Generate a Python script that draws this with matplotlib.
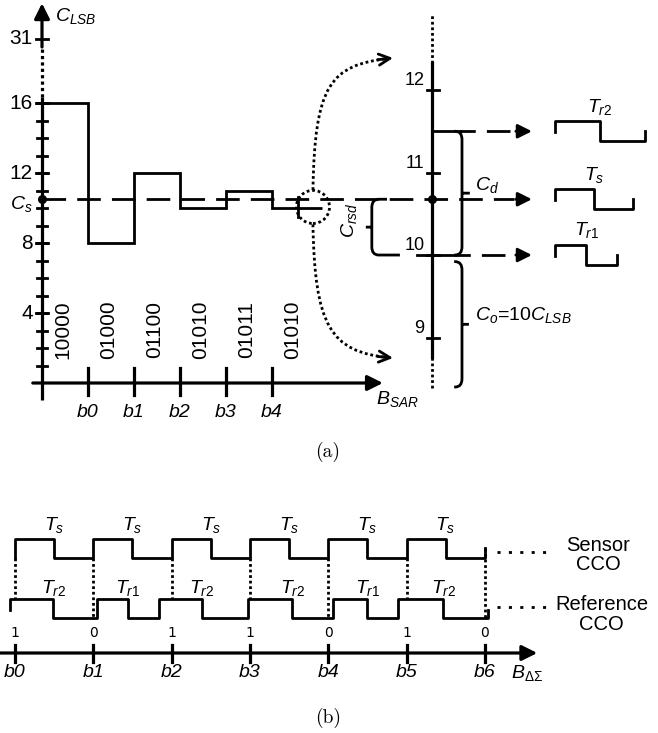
import numpy as np
import matplotlib
matplotlib.use('Agg')
import matplotlib.pyplot as plt
from matplotlib.path import Path
from matplotlib.patches import PathPatch, Ellipse

plt.rcParams['font.family'] = ['Liberation Sans', 'DejaVu Sans']
plt.rcParams['mathtext.fontset'] = 'custom'
plt.rcParams['mathtext.rm'] = 'Liberation Sans'
plt.rcParams['mathtext.it'] = 'Liberation Sans:italic'
plt.rcParams['mathtext.default'] = 'it'

# ---- data, panel (a): SAR search ----
sar_ticks = ['b0', 'b1', 'b2', 'b3', 'b4']
sar_codes = ['10000', '01000', '01100', '01010', '01011', '01010']
sar_levels = [16, 8, 12, 10, 11, 10]
y_major = [4, 8, 12, 16]
y_top_label = 31
c_s = 10.5
zoom_ticks = [9, 10, 11, 12]
c_r2 = 11.5
c_r1 = 10.0
c_o_low = 8.4
# relative oscillation periods (Ts = 1)
wave_names = ['T_{r2}', 'T_s', 'T_{r1}']
wave_periods = [1.15, 1.0, 0.8]

# ---- data, panel (b): delta-sigma ----
dsm_ticks = ['b0', 'b1', 'b2', 'b3', 'b4', 'b5', 'b6']
dsm_bits = [1, 0, 1, 1, 0, 1, 0]
ref_rise = [-0.06, 1.05, 1.84, 2.98, 4.06, 4.89]
ref_fall = [0.49, 1.44, 2.39, 3.54, 4.50, 5.47]
ref_end = 6.04
ref_labels = ['T_{r2}', 'T_{r1}', 'T_{r2}', 'T_{r2}', 'T_{r1}', 'T_{r2}']

LW = 2.0
AX_LW = 2.3
DOT = (0, (1.0, 1.0))
DASH = (0, (8.5, 4))
FS = 14

fig = plt.figure(figsize=(6.58, 7.33), dpi=100)
top_box = [0, 293 / 733, 1, 440 / 733]
ax = fig.add_axes(top_box)
ax.set_xlim(-0.913, 13.391)
ax.set_ylim(-3.257, 21.886)
ax.axis('off')
axr = fig.add_axes(top_box)
axr.set_xlim(-0.913, 13.391)
axr.set_ylim(7.758, 13.091)
axr.axis('off')
axr.patch.set_alpha(0)


def arrow(a, tip, tail, ms=21, style='-|>', lw=LW):
    a.annotate('', xy=tip, xytext=tail,
               arrowprops=dict(arrowstyle=style, color='k', lw=lw,
                               mutation_scale=ms, shrinkA=0, shrinkB=0))


def brace(a, x, y_top, y_bot, d, arm_top, arm_bot, rx, ry, tick):
    verts = [(x + d * arm_top, y_top), (x + d * rx, y_top), (x, y_top), (x, y_top - ry),
             (x, y_bot + ry), (x, y_bot), (x + d * rx, y_bot), (x + d * arm_bot, y_bot),
             (x, (y_top + y_bot) / 2), (x - d * tick, (y_top + y_bot) / 2)]
    codes = [Path.MOVETO, Path.LINETO, Path.CURVE3, Path.CURVE3,
             Path.LINETO, Path.CURVE3, Path.CURVE3, Path.LINETO,
             Path.MOVETO, Path.LINETO]
    a.add_patch(PathPatch(Path(verts, codes), fill=False, lw=LW, color='k'))


# ---- left axis (C_LSB) ----
y31 = 19.66
ax.plot([0, 0], [-0.97, 16.34], 'k', lw=AX_LW, solid_capstyle='butt')
ax.plot([0, 0], [16.34, 19.2], 'k', lw=AX_LW, ls=DOT)
arrow(ax, (0, 21.7), (0, 19.2), ms=23, lw=AX_LW)
for v in range(1, 17):
    ax.plot([-0.1, 0.1], [v, v], 'k', lw=LW)
for v in y_major:
    ax.plot([-0.14, 0.12], [v, v], 'k', lw=LW)
    ax.text(-0.2, v, str(v), ha='right', va='center', fontsize=FS + 1)
ax.plot([-0.14, 0.12], [y31, y31], 'k', lw=LW)
ax.text(-0.2, y31, str(y_top_label), ha='right', va='center', fontsize=FS + 1)
ax.text(0.28, 21.0, r'$C_{LSB}$', ha='left', va='center', fontsize=FS)
ax.plot(0, c_s, 'ko', ms=5.5)
ax.text(-0.2, c_s - 0.25, r'$C_s$', ha='right', va='center', fontsize=FS)

# x axis (B_SAR)
arrow(ax, (7.41, 0), (-0.2, 0), ms=23, lw=AX_LW)
for k, lab in enumerate(sar_ticks, start=1):
    ax.plot([k, k], [-0.69, 0.86], 'k', lw=AX_LW)
    ax.text(k, -1.66, lab, ha='center', va='center', fontsize=FS, style='italic')
ax.text(7.72, -0.9, r'$B_{SAR}$', ha='center', va='center', fontsize=FS)
for i, code in enumerate(sar_codes):
    ax.text(i + 0.45, 3.03, code, rotation=90, ha='center', va='center', fontsize=15)

# SAR steps
edges = list(range(len(sar_levels))) + [len(sar_levels) + 0.09]
ax.stairs(sar_levels, edges, baseline=None, color='k', lw=LW)
ax.plot([5.57, 5.57], [9.49, 10.63], 'k', lw=LW)

# C_s dashed line with arrow
XR = 8.48
ax.plot([0, 10.25], [c_s, c_s], 'k', lw=LW, ls=DASH)
arrow(ax, (10.65, c_s), (10.3, c_s))
ax.plot(XR, c_s, 'ko', ms=5.5)

# zoom circle and dotted curved arrows
cx, cy = edges[-1] - 0.2, sar_levels[-1] + 0.06
ax.add_patch(Ellipse((cx, cy), 0.72, 1.89, fill=False, lw=LW, ls=DOT))
up = [(cx, cy + 0.97), (cx + 0.04, 17.03), (cx + 0.37, 18.17), (7.55, 18.55)]
dn = [(cx, cy - 1.0), (cx + 0.04, 3.31), (cx + 0.37, 1.77), (7.55, 1.45)]
for pts in (up, dn):
    ax.add_patch(PathPatch(Path(pts, [Path.MOVETO, Path.CURVE4, Path.CURVE4, Path.CURVE4]),
                           fill=False, lw=LW, ls=DOT))
    arrow(ax, (pts[3][0] + 0.08, pts[3][1] + (pts[3][1] - pts[2][1]) * 0.06),
          (pts[3][0] - 0.25, pts[3][1] - (pts[3][1] - pts[2][1]) * 0.2), ms=20, style='->')

# ---- zoomed right axis ----
axr.plot([XR, XR], [12.33, 12.91], 'k', lw=LW, ls=DOT)
axr.plot([XR, XR], [8.76, 12.33], 'k', lw=AX_LW)
axr.plot([XR, XR], [8.39, 8.76], 'k', lw=LW, ls=DOT)
for v in zoom_ticks:
    axr.plot([XR - 0.12, XR + 0.15], [v, v], 'k', lw=LW)
    axr.text(XR - 0.17, v + 0.01, str(v), ha='right', va='bottom', fontsize=13)

cs_r = axr.transData.inverted().transform(ax.transData.transform((XR, c_s)))[1]

# reference levels
axr.plot([XR, 9.09], [c_r2, c_r2], 'k', lw=LW)
axr.plot([9.09, 10.25], [c_r2, c_r2], 'k', lw=LW, ls=(3, (8.5, 4)))
arrow(axr, (10.65, c_r2), (10.3, c_r2))
axr.plot([8.15, 8.98], [c_r1, c_r1], 'k', lw=LW)
axr.plot([8.98, 10.25], [c_r1, c_r1], 'k', lw=LW, ls=(3, (8.5, 4)))
arrow(axr, (10.65, c_r1), (10.3, c_r1))

# braces
brace(axr, 9.13, c_r2, c_r1, -1, 0.17, 0.17, 0.15, 0.1, 0.17)
brace(axr, 9.13, c_r1 - 0.08, c_o_low, -1, 0.17, 0.17, 0.15, 0.1, 0.15)
brace(axr, 7.17, cs_r, c_r1, 1, 0.33, 0.61, 0.15, 0.1, 0.13)
axr.text(9.41, cs_r + 0.17, r'$C_d$', ha='left', va='center', fontsize=FS)
axr.text(9.41, 9.27, r'$C_o$=10$C_{LSB}$', ha='left', va='center', fontsize=FS)
axr.text(6.67, (cs_r + c_r1) / 2 + 0.08, r'$C_{rsd}$', rotation=90, ha='center', va='center', fontsize=FS)

# small period waveforms
for name, per, lvl in zip(wave_names, wave_periods, [c_r2, cs_r, c_r1]):
    x0, half = 11.15, 1.7 * per / 2
    hi, lo = lvl + 0.12, lvl - 0.12
    axr.plot([x0, x0, x0 + half, x0 + half, x0 + 2 * half, x0 + 2 * half],
             [hi - 0.13, hi, hi, lo, lo, lo + 0.12], 'k', lw=LW)
    axr.text(x0 + half, hi + 0.18, '$' + name + '$', ha='center', va='center', fontsize=FS)

fig.text(0.498, 1 - 452 / 733, '(a)', ha='center', va='center', fontsize=14, family='cmr10')

# ---- panel (b) ----
axb = fig.add_axes([0, 0, 1, 293 / 733])
axb.set_xlim(-0.1916, 8.212)
axb.set_ylim(-4.21, 11.21)
axb.axis('off')

s_lo, s_hi = 5.0, 6.0
r_lo, r_hi = 1.85, 2.85


def ref_at(x):
    for r, f in zip(ref_rise, ref_fall):
        if r <= x < f:
            return r_hi
    return r_lo


n = len(dsm_ticks) - 1
for k in range(n + 1):
    top = s_lo if k < n else 5.53
    axb.plot([k, k], [top, ref_at(k)], 'k', lw=LW, ls=DOT)

sx, sy = [], []
for k in range(n):
    sx += [k, k, k + 0.5, k + 0.5]
    sy += [s_lo, s_hi, s_hi, s_lo]
sx += [n, n]
sy += [s_lo, 5.53]
axb.plot(sx, sy, 'k', lw=LW)

rx_, ry_ = [ref_rise[0]], [2.26]
for i, (r, f) in enumerate(zip(ref_rise, ref_fall)):
    if i > 0:
        rx_ += [r]
        ry_ += [r_lo]
    rx_ += [r, f, f]
    ry_ += [r_hi, r_hi, r_lo]
rx_ += [ref_end, ref_end]
ry_ += [r_lo, 2.26]
axb.plot(rx_, ry_, 'k', lw=LW)

for k in range(n):
    axb.text(k + 0.5, 6.74, r'$T_s$', ha='center', va='center', fontsize=FS)
for f, lab in zip(ref_fall, ref_labels):
    axb.text(f, 3.42, '$' + lab + '$', ha='center', va='center', fontsize=FS)

arrow(axb, (6.67, 0), (-0.19, 0), ms=23, lw=AX_LW)
for k, (lab, bit) in enumerate(zip(dsm_ticks, dsm_bits)):
    axb.plot([k, k], [-0.47, 0.42], 'k', lw=AX_LW)
    axb.text(k, -1.05, lab, ha='center', va='center', fontsize=FS, style='italic')
    axb.text(k, 1.05, str(bit), ha='center', va='center', fontsize=10, family='DejaVu Sans')
axb.text(6.33, -1.05, r'$B_{\Delta\Sigma}$', ha='left', va='center', fontsize=FS)

axb.plot([6.16, 6.81], [5.32, 5.32], 'k', lw=LW, ls=(0, (1.1, 3.0)))
axb.plot([6.16, 6.81], [2.42, 2.42], 'k', lw=LW, ls=(0, (1.1, 3.0)))
axb.text(7.45, 5.16, 'Sensor\nCCO', ha='center', va='center', fontsize=14.5, linespacing=1.05)
axb.text(7.49, 2.03, 'Reference\nCCO', ha='center', va='center', fontsize=14.5, linespacing=1.05)

fig.text(0.498, 1 - 718 / 733, '(b)', ha='center', va='center', fontsize=14, family='cmr10')

fig.savefig('out.png', dpi=100)
